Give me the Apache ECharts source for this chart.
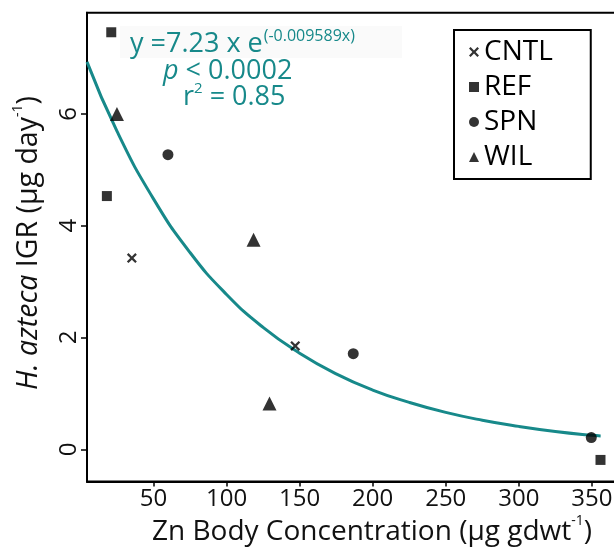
<!DOCTYPE html>
<html>
<head>
<meta charset="utf-8">
<script src="https://cdn.jsdelivr.net/npm/echarts@6/dist/echarts.min.js"></script>
<style>html,body{margin:0;padding:0;background:#fff;}#c{width:614px;height:550px;}</style>
</head>
<body>
<div id="c"></div>
<script>
// ---- data ----
const xTicks = [50, 100, 150, 200, 250, 300, 350];
const yTicks = [0, 2, 4, 6];
const cntlX = [35.2, 147.0];
const cntlY = [3.42, 1.85];
const refX = [21.1, 18.1, 355.9];
const refY = [7.46, 4.53, -0.19];
const spnX = [59.9, 186.7, 349.6];
const spnY = [5.27, 1.71, 0.21];
const wilX = [25.0, 118.5, 129.4];
const wilY = [6.0, 3.75, 0.82];
const fitX = [4.5, 25, 50, 75, 100, 125, 150, 175, 200, 225, 250, 275, 300, 325, 350, 356];
const fitY = [6.93, 5.69, 4.48, 3.52, 2.77, 2.18, 1.72, 1.35, 1.06, 0.84, 0.66, 0.52, 0.41, 0.32, 0.25, 0.24];

const zip = (a, b) => a.map((v, i) => [v, b[i]]);
const FONT = '"Open Sans", "DejaVu Sans", sans-serif';
const TEAL = '#17898a';
const crossPath = 'path://M0,1.6L1.6,0L5,3.4L8.4,0L10,1.6L6.6,5L10,8.4L8.4,10L5,6.6L1.6,10L0,8.4L3.4,5Z';

const chart = echarts.init(document.getElementById('c'), null, {renderer: 'canvas'});
chart.setOption({
  animation: false,
  backgroundColor: '#fff',
  grid: {left: 87, top: 12.7, width: 587, bottom: 68.5, show: true, borderColor: '#000', borderWidth: 2,
         containLabel: false, outerBoundsMode: 'none'},
  xAxis: {
    type: 'value', min: 4.5, max: 406.2,
    axisLine: {show: true, onZero: false, lineStyle: {color: '#000', width: 2}},
    axisTick: {show: true, customValues: xTicks, length: 5, lineStyle: {color: '#000', width: 1.5}},
    axisLabel: {customValues: xTicks, color: '#111', fontFamily: FONT, fontSize: 24, margin: 6},
    splitLine: {show: false}
  },
  yAxis: {
    type: 'value', min: -0.576, max: 7.81,
    axisLine: {show: true, onZero: false, lineStyle: {color: '#000', width: 2}},
    axisTick: {show: true, customValues: yTicks, length: 6, lineStyle: {color: '#000', width: 1.5}},
    axisLabel: {customValues: yTicks, color: '#111', fontFamily: FONT, fontSize: 24, margin: 6, rotate: 90},
    splitLine: {show: false}
  },
  legend: {
    orient: 'vertical', left: 454, top: 30,
    padding: [8, 38, 8, 15],
    borderColor: '#000', borderWidth: 2,
    itemWidth: 10, itemHeight: 10, itemGap: 7,
    textStyle: {fontFamily: FONT, fontSize: 28, color: '#000', lineHeight: 28},
    data: [
      {name: 'CNTL', icon: crossPath},
      {name: 'REF', icon: 'rect'},
      {name: 'SPN', icon: 'circle'},
      {name: 'WIL', icon: 'triangle'}
    ]
  },
  series: [
    {type: 'line', name: 'fit', data: zip(fitX, fitY), smooth: true, showSymbol: false, symbol: 'none',
     lineStyle: {color: TEAL, width: 3}, z: 1, clip: true},
    {type: 'scatter', name: 'CNTL', data: zip(cntlX, cntlY), symbol: crossPath, symbolSize: 10, itemStyle: {color: '#000'}, z: 3},
    {type: 'scatter', name: 'REF', data: zip(refX, refY), symbol: 'rect', symbolSize: 10, itemStyle: {color: '#000'}, z: 3},
    {type: 'scatter', name: 'SPN', data: zip(spnX, spnY), symbol: 'circle', symbolSize: 11, itemStyle: {color: '#000'}, z: 3},
    {type: 'scatter', name: 'WIL', data: zip(wilX, wilY), symbol: 'triangle', symbolSize: 14, itemStyle: {color: '#000'}, z: 3}
  ],
  graphic: [
    {type: 'rect', left: 120, top: 26, shape: {width: 282, height: 32}, style: {fill: '#fafafa'}, z: 0, silent: true},
    {type: 'text', x: 130, y: 43, z: 5, style: {
      text: '{a|y =7.23 x e}{s|(-0.009589x)}',
      verticalAlign: 'middle',
      rich: {
        a: {fontFamily: FONT, fontSize: 27, fill: TEAL, lineHeight: 30, verticalAlign: 'bottom'},
        s: {fontFamily: FONT, fontSize: 16, fill: TEAL, lineHeight: 30, verticalAlign: 'top', padding: [0, 0, 0, 1]}
      }
    }},
    {type: 'text', x: 163, y: 71, z: 5, style: {
      text: '{i|p}{n| < 0.0002}',
      verticalAlign: 'middle',
      rich: {
        i: {fontFamily: FONT, fontSize: 27, fontStyle: 'italic', fill: TEAL, lineHeight: 30},
        n: {fontFamily: FONT, fontSize: 27, fill: TEAL, lineHeight: 30}
      }
    }},
    {type: 'text', x: 183, y: 96, z: 5, style: {
      text: '{n|r}{s|2}{n| = 0.85}',
      verticalAlign: 'middle',
      rich: {
        n: {fontFamily: FONT, fontSize: 27, fill: TEAL, lineHeight: 30, verticalAlign: 'bottom'},
        s: {fontFamily: FONT, fontSize: 15, fill: TEAL, lineHeight: 30, verticalAlign: 'top'}
      }
    }},
    {type: 'text', x: 372, y: 530, z: 5, style: {
      text: '{n|Zn Body Concentration (µg gdwt}{s|-1}{n|)}',
      align: 'center', verticalAlign: 'middle',
      rich: {
        n: {fontFamily: FONT, fontSize: 28, fill: '#111', lineHeight: 32, verticalAlign: 'bottom'},
        s: {fontFamily: FONT, fontSize: 14, fill: '#111', lineHeight: 32, verticalAlign: 'top'}
      }
    }},
    {type: 'text', x: 27, y: 243, rotation: Math.PI / 2, z: 5, style: {
      text: '{i|H. azteca}{n| IGR (µg day}{s|-1}{n|)}',
      align: 'center', verticalAlign: 'middle',
      rich: {
        i: {fontFamily: FONT, fontSize: 28.5, fontStyle: 'italic', fill: '#111', lineHeight: 32, verticalAlign: 'bottom'},
        n: {fontFamily: FONT, fontSize: 28.5, fill: '#111', lineHeight: 32, verticalAlign: 'bottom'},
        s: {fontFamily: FONT, fontSize: 14, fill: '#111', lineHeight: 32, verticalAlign: 'top'}
      }
    }}
  ]
});
</script>
</body>
</html>
